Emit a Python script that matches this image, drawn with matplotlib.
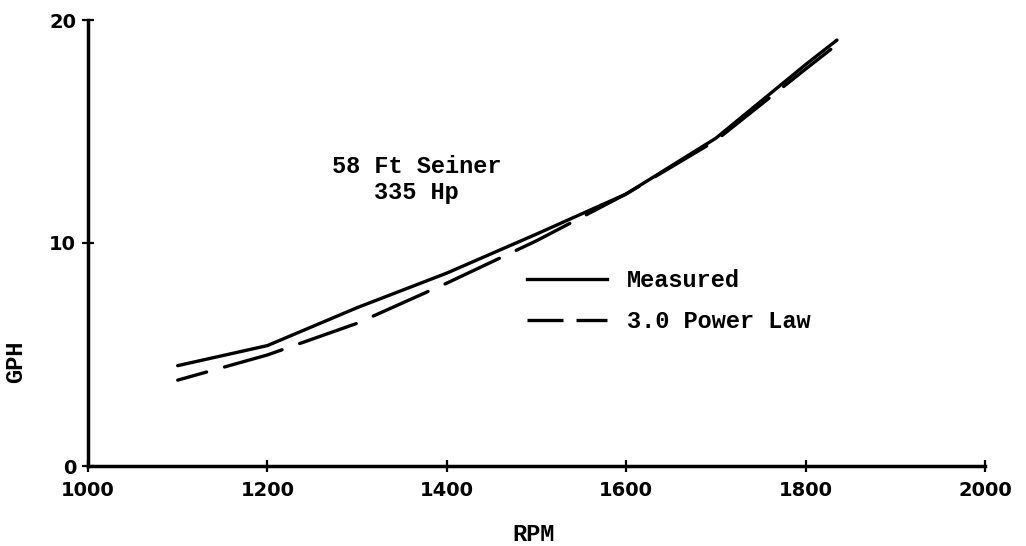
import matplotlib
matplotlib.use("Agg")
import matplotlib.pyplot as plt
from matplotlib.lines import Line2D

# fuel burn vs engine speed, 58 ft seiner
rpm = [1100, 1200, 1300, 1400, 1500, 1600, 1700, 1800, 1835]
gph_measured = [4.5, 5.4, 7.1, 8.65, 10.4, 12.2, 14.7, 18.0, 19.1]
gph_power_law = [3.85, 4.98, 6.4, 8.2, 10.1, 12.2, 14.6, 17.8, 18.9]

x_ticks = [1000, 1200, 1400, 1600, 1800, 2000]
y_ticks = [0, 10, 20]

mono = "Liberation Mono"
lw = 2.4

fig = plt.figure(figsize=(10.26, 5.46), dpi=100)
ax = fig.add_axes([88 / 1026, 1 - 466 / 546, (985 - 88) / 1026, (466 - 20) / 546])

ax.plot(rpm, gph_measured, color="black", lw=lw, solid_capstyle="round")
ax.plot(rpm, gph_power_law, color="black", lw=lw,
        linestyle=(9, (18, 5.6)), dash_capstyle="round")

ax.set_xlim(1000, 2000)
ax.set_ylim(0, 20)
ax.set_xticks(x_ticks)
ax.set_yticks(y_ticks)

for side in ["top", "right"]:
    ax.spines[side].set_visible(False)
for side in ["left", "bottom"]:
    ax.spines[side].set_linewidth(2.5)

ax.tick_params(direction="inout", length=9, width=1.6, color="black")
ax.tick_params(axis="x", pad=6)
ax.tick_params(axis="y", pad=4)
for lab in ax.get_xticklabels() + ax.get_yticklabels():
    lab.set_fontfamily("DejaVu Sans")
    lab.set_fontweight("bold")
    lab.set_fontsize(14)

ax.set_xlabel("RPM", family=mono, fontweight="bold", fontsize=17)
ax.set_ylabel("GPH", family=mono, fontweight="bold", fontsize=17)
ax.xaxis.set_label_coords(0.497, -0.128)
ax.yaxis.set_label_coords(-0.068, 0.233)

ax.text(1366, 12.85, "58 Ft Seiner\n335 Hp", family=mono, fontweight="bold",
        fontsize=17, ha="center", va="center", linespacing=1.15)

handles = [
    Line2D([], [], color="black", lw=lw),
    Line2D([], [], color="black", lw=lw, linestyle=(0, (10.8, 3.9))),
]
ax.legend(handles, ["Measured", "3.0 Power Law"], loc="upper left",
          bbox_to_anchor=(0.489, 0.442), frameon=False, borderpad=0,
          borderaxespad=0, handlelength=3.4, handletextpad=0.85,
          labelspacing=0.78, prop={"family": mono, "weight": "bold", "size": 17})

fig.savefig("out.png", dpi=100)
